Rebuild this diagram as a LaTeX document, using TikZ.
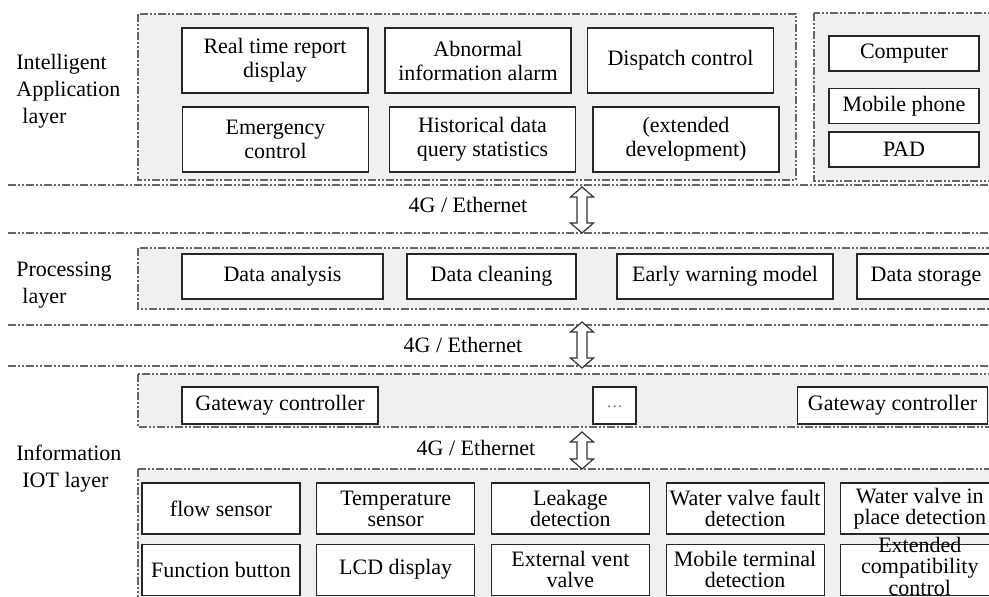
\documentclass[tikz,border=0pt]{standalone}
\usepackage{fontspec}
\setmainfont{Liberation Serif}
\usetikzlibrary{positioning,calc}

\tikzset{
  dashdotdot/.style={dash pattern=on 4pt off 1.2pt on 0.7pt off 1.2pt on 0.7pt off 1.2pt},
  zone/.style={draw=black!60, fill=black!6, line width=0.7pt, dashdotdot},
  sepline/.style={draw=black!60, line width=0.7pt, dashdotdot},
  cell/.style={draw=black!85, fill=white, line width=0.6pt, align=center, inner sep=1pt,
    font=\fontsize{11}{11.5}\selectfont},
  appcell/.style={cell, minimum width=93pt, minimum height=32.5pt, font=\fontsize{11}{12}\selectfont},
  devcell/.style={cell, minimum width=75pt, minimum height=17.5pt},
  proccell/.style={cell, minimum height=22.5pt},
  gatecell/.style={cell, minimum height=18.5pt},
  iotcell/.style={cell, minimum width=79pt, minimum height=25.5pt, font=\fontsize{11}{10.5}\selectfont},
  layername/.style={anchor=west, align=left, inner sep=0pt, font=\fontsize{11}{13.5}\selectfont},
  netlabel/.style={font=\fontsize{11}{13}\selectfont},
  % hollow double-headed arrow between two layers
  link/.style={draw=black!80, fill=white, line width=0.6pt, line join=miter,
    to path={-- ++(11.5,10) -- ++(-6.5,0) -- ($(\tikztotarget)+(5,-10)$) -- ++(6.5,0)
      -- (\tikztotarget) -- ++(-11.5,-10) -- ++(6.5,0) -- ($(\tikztostart)+(-5,10)$)
      -- ++(-6.5,0) -- cycle}}
}

\begin{document}
\begin{tikzpicture}[x=0.5pt, y=-0.5pt, node distance=4.5pt and 7.75pt]
  \clip (0,0) rectangle (989,596);

  % Layer frames and separators
  \draw[zone] (138,14) rectangle (796,180);
  \draw[zone] (814,13) rectangle (1000,181);
  \draw[sepline] (8,185) -- (995,185);
  \draw[sepline] (8,233) -- (995,233);
  \draw[zone] (138,248) rectangle (1000,309);
  \draw[sepline] (8,325) -- (995,325);
  \draw[sepline] (8,366) -- (995,366);
  \draw[zone] (138,374) rectangle (1000,427);
  \draw[zone] (138,469) rectangle (1000,610);

  % Layer names
  \node (lapp) [layername] at (16,91) {Intelligent\\Application\\\hspace*{3pt}layer};
  \node (lproc) [layername] at (16,285.5) {Processing\\\hspace*{3pt}layer};
  \node (liot) [layername] at (16,468.5) {Information\\\hspace*{3pt}IOT layer};

  % Application layer
  \node (rtr) [appcell] at (275,60.5) {Real time report\\display};
  \node (aia) [appcell] at (478,60.5) {Abnormal\\information alarm};
  \node (dsp) [appcell] at (680.5,60.5) {Dispatch control};
  \node (emg) [appcell] at (275.5,139.5) {Emergency\\control};
  \node (hds) [appcell] at (482.5,139.5) {Historical data\\query statistics};
  \node (ext) [appcell] at (686,139.5) {(extended\\development)};

  % Terminals
  \node (comp) [devcell] at (904,53.5) {Computer};
  \node (mob) [devcell] at (904,106) {Mobile phone};
  \node (pad) [devcell] at (904,149.5) {PAD};

  % Processing layer
  \node (ana) [proccell, minimum width=100.5pt] at (282.5,276.5) {Data analysis};
  \node (cln) [proccell, minimum width=84.5pt] at (491.5,276.5) {Data cleaning};
  \node (ewm) [proccell, minimum width=108pt] at (725,276.5) {Early warning model};
  \node (sto) [proccell, minimum width=69pt] at (926,276.5) {Data storage};

  % Gateways
  \node (gw1) [gatecell, minimum width=98pt] at (280,405.5) {Gateway controller};
  \node (gwd) [gatecell, minimum width=21.5pt, text=black!60] at (614.5,405.5) {\fontsize{8}{9}\selectfont\raisebox{-2pt}{\dots}};
  \node (gw2) [gatecell, minimum width=95pt] at (892.5,405.5) {Gateway controller};

  % Sensors and actuators
  \node (flow) [iotcell] at (221,508.5) {flow sensor};
  \node (temp) [iotcell, right=of flow] {Temperature\\sensor};
  \node (leak) [iotcell, right=of temp] {Leakage\\detection};
  \node (vfault) [iotcell, right=of leak] {Water valve fault\\detection};
  \node (vplace) [iotcell, right=of vfault] {Water valve in\\place detection};
  \node (fbtn) [iotcell, below=of flow] {Function button};
  \node (lcd) [iotcell, below=of temp] {LCD display};
  \node (vent) [iotcell, below=of leak] {External vent\\valve};
  \node (mterm) [iotcell, below=of vfault] {Mobile terminal\\detection};
  \node (compat) [iotcell, below=of vplace] {\raisebox{-5pt}{\smash{\begin{tabular}{@{}c@{}}Extended\\compatibility\\control\end{tabular}}}};

  % Links between layers
  \node (net1) [netlabel] at (468,205) {4G / Ethernet};
  \node (net2) [netlabel] at (463,345) {4G / Ethernet};
  \node (net3) [netlabel] at (476,448) {4G / Ethernet};
  \coordinate (top1) at (582,187);
  \coordinate (bot1) at (582,233);
  \coordinate (top2) at (582,322);
  \coordinate (bot2) at (582,368);
  \coordinate (top3) at (582,432);
  \coordinate (bot3) at (582,469);
  \draw[link] (top1) to (bot1);
  \draw[link] (top2) to (bot2);
  \draw[link] (top3) to (bot3);

\end{tikzpicture}
\end{document}
